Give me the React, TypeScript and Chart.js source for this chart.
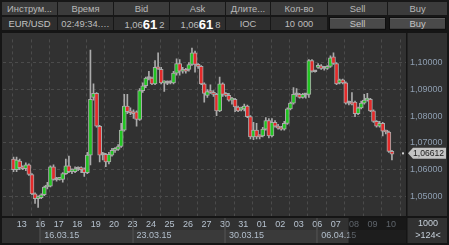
import React, { useEffect, useRef } from 'react';
import { Chart, registerables } from 'chart.js';

Chart.register(...registerables);

const FONT = '"Liberation Sans", Arial, sans-serif';

// ---- 4h EUR/USD candles ----
const OPEN = [
  1.06398, 1.06001, 1.06326, 1.06073, 1.06037, 1.06182, 1.05820, 1.05098, 1.04917, 1.04954,
  1.05062, 1.05351, 1.05387, 1.06109, 1.05640, 1.05640, 1.05640, 1.05856, 1.06145, 1.05929,
  1.05929, 1.06037, 1.06037, 1.06037, 1.05893, 1.06543, 1.08710, 1.08855, 1.07627, 1.06579,
  1.06579, 1.06290, 1.06543, 1.06723, 1.06760, 1.06868, 1.07482, 1.08385, 1.08168, 1.08168,
  1.08168, 1.07879, 1.08963, 1.09144, 1.09433, 1.09433, 1.09216, 1.09830, 1.09758, 1.09252,
  1.09252, 1.09252, 1.09252, 1.09613, 1.09975, 1.09686, 1.09722, 1.09758, 1.09939, 1.10372,
  1.09939, 1.09866, 1.09216, 1.08783, 1.08927, 1.08891, 1.08819, 1.08205, 1.09216, 1.08819,
  1.08783, 1.08602, 1.08638, 1.08349, 1.08241, 1.08277, 1.08385, 1.07988, 1.07229, 1.07482,
  1.07265, 1.07265, 1.07518, 1.07843, 1.07265, 1.07771, 1.07627, 1.07554, 1.07518, 1.07735,
  1.08277, 1.08494, 1.08819, 1.08819, 1.08710, 1.08819, 1.08819, 1.10083, 1.09686, 1.09830,
  1.09884, 1.09794, 1.09794, 1.09866, 1.10228, 1.09975, 1.09252, 1.09361, 1.09252, 1.08494,
  1.08494, 1.08530, 1.08096, 1.08313, 1.08494, 1.08602, 1.08638, 1.08205, 1.07807, 1.07627,
  1.07735, 1.07446, 1.07410, 1.06687,
];
const HIGH = [
  1.06471, 1.06471, 1.06398, 1.06145, 1.06254, 1.06218, 1.05856, 1.05134, 1.05026, 1.05098,
  1.05387, 1.05531, 1.06145, 1.06182, 1.05712, 1.05712, 1.05893, 1.06398, 1.06507, 1.06037,
  1.06109, 1.06109, 1.06109, 1.06073, 1.06651, 1.10480, 1.09216, 1.08891, 1.07663, 1.06651,
  1.06615, 1.06651, 1.06796, 1.06832, 1.06940, 1.07735, 1.08819, 1.08819, 1.08313, 1.08241,
  1.08205, 1.09035, 1.09252, 1.09469, 1.09686, 1.09469, 1.10083, 1.10372, 1.09830, 1.09324,
  1.09324, 1.09324, 1.09686, 1.10155, 1.10119, 1.09830, 1.09794, 1.10011, 1.10553, 1.10444,
  1.09975, 1.09902, 1.09252, 1.08999, 1.09180, 1.08963, 1.08855, 1.09469, 1.09252, 1.08891,
  1.08855, 1.08710, 1.08674, 1.08385, 1.08349, 1.08457, 1.08421, 1.08024, 1.07771, 1.07735,
  1.07301, 1.07590, 1.07952, 1.07916, 1.07916, 1.07843, 1.07699, 1.07627, 1.07807, 1.08313,
  1.08530, 1.09072, 1.09035, 1.08855, 1.08855, 1.08855, 1.10119, 1.10119, 1.09722, 1.09975,
  1.09939, 1.09866, 1.09902, 1.10264, 1.10372, 1.10011, 1.09397, 1.09397, 1.09288, 1.08566,
  1.08891, 1.08566, 1.08349, 1.08566, 1.08819, 1.08855, 1.08674, 1.08241, 1.07843, 1.07807,
  1.07771, 1.07482, 1.07446, 1.06723,
];
const LOW = [
  1.05929, 1.05929, 1.06001, 1.06001, 1.05965, 1.05784, 1.05062, 1.04737, 1.04592, 1.04917,
  1.05026, 1.05278, 1.05351, 1.05604, 1.05567, 1.05604, 1.05531, 1.05820, 1.05893, 1.05856,
  1.05893, 1.05965, 1.05893, 1.05748, 1.05856, 1.06182, 1.08602, 1.07590, 1.06290, 1.06362,
  1.06109, 1.06218, 1.06507, 1.06651, 1.06723, 1.06832, 1.07446, 1.08096, 1.08060, 1.07916,
  1.07627, 1.07843, 1.08891, 1.09072, 1.09361, 1.09180, 1.09180, 1.09758, 1.09216, 1.08927,
  1.09180, 1.09216, 1.09216, 1.09541, 1.09541, 1.09613, 1.09613, 1.09686, 1.09902, 1.09650,
  1.09794, 1.09180, 1.08530, 1.08710, 1.08855, 1.08746, 1.08024, 1.08168, 1.08746, 1.08746,
  1.08566, 1.08457, 1.08168, 1.08168, 1.08205, 1.08205, 1.07952, 1.07157, 1.07121, 1.07157,
  1.07157, 1.07229, 1.07482, 1.07193, 1.07229, 1.07590, 1.07518, 1.07482, 1.07482, 1.07699,
  1.08241, 1.08457, 1.08746, 1.08674, 1.08674, 1.08674, 1.08710, 1.09650, 1.09650, 1.09794,
  1.09758, 1.09722, 1.09758, 1.09830, 1.09939, 1.09180, 1.09216, 1.09216, 1.08457, 1.08421,
  1.08421, 1.07988, 1.08060, 1.08277, 1.08457, 1.08566, 1.08168, 1.07771, 1.07590, 1.07590,
  1.07265, 1.07338, 1.06651, 1.06362,
];
const CLOSE = [
  1.06001, 1.06362, 1.06073, 1.06037, 1.06182, 1.05820, 1.05098, 1.04917, 1.04954, 1.05062,
  1.05351, 1.05387, 1.06109, 1.05640, 1.05622, 1.05676, 1.05856, 1.06145, 1.05929, 1.05965,
  1.06037, 1.06019, 1.06001, 1.05893, 1.06543, 1.08638, 1.08855, 1.07627, 1.06543, 1.06561,
  1.06290, 1.06579, 1.06723, 1.06796, 1.06868, 1.07482, 1.08385, 1.08168, 1.08132, 1.08096,
  1.07879, 1.08963, 1.09144, 1.09433, 1.09415, 1.09216, 1.09830, 1.09776, 1.09252, 1.09288,
  1.09234, 1.09270, 1.09613, 1.09975, 1.09686, 1.09722, 1.09686, 1.09939, 1.10372, 1.09939,
  1.09866, 1.09216, 1.08855, 1.08927, 1.08891, 1.08819, 1.08205, 1.09216, 1.08819, 1.08783,
  1.08602, 1.08638, 1.08349, 1.08205, 1.08277, 1.08385, 1.07988, 1.07229, 1.07482, 1.07229,
  1.07229, 1.07518, 1.07843, 1.07265, 1.07771, 1.07627, 1.07554, 1.07518, 1.07735, 1.08277,
  1.08494, 1.08819, 1.08801, 1.08710, 1.08819, 1.08801, 1.10083, 1.09686, 1.09668, 1.09902,
  1.09794, 1.09812, 1.09866, 1.10191, 1.09975, 1.09216, 1.09361, 1.09252, 1.08494, 1.08512,
  1.08457, 1.08096, 1.08313, 1.08494, 1.08602, 1.08638, 1.08205, 1.07807, 1.07627, 1.07735,
  1.07446, 1.07410, 1.06687, 1.06579,
];

const DAY_LABELS = ['13', '16', '17', '18', '19', '20', '23', '24', '25', '26', '27', '30', '31', '01', '02', '03', '06', '07', '08', '09', '10'];
const WEEK_LABELS = ['16.03.15', '23.03.15', '30.03.15', '06.04.15'];
const WEEK_START_DAY = [1, 6, 11, 16];
const Y_TICKS = [1.05, 1.06, 1.07, 1.08, 1.09, 1.10];
const LAST_PRICE = 1.06612;
const CORNER_TEXT = ['1000', '>124<'];

const HEADERS = ['Инструм...', 'Время', 'Bid', 'Ask', 'Длите...', 'Кол-во', 'Sell', 'Buy'];
const ROW = { symbol: 'EUR/USD', time: '02:49:34.…', bid: ['1,06', '61', '2'], ask: ['1,06', '61', '8'], tif: 'IOC', qty: '10 000' };

// layout constants (style)
const CANDLES_PER_DAY = 6;
const FIRST_DAY_OFFSET = 2.7;
const X_MIN = -0.3;
const X_MAX = 124.45;
const Y_MIN = 1.04267;
const Y_MAX = 1.10878;
const SHADE_FROM = 108.9;

const GREEN = '#22c422';
const RED = '#e42a2a';
const GRAYB = '#ababab';
const GRID = '#4b4b4b';

const DAY_TICKS = DAY_LABELS.map((_, k) => FIRST_DAY_OFFSET + CANDLES_PER_DAY * k);

const COLS: [number, number][] = [
  [2, 57], [58, 113], [114, 169], [170, 225], [226, 270], [271, 327], [328, 387], [388, 447],
];

const fmt = (v: number) => v.toFixed(5).replace('.', ',');

const decorPlugin = {
  id: 'decor',
  beforeDraw(chart: any) {
    const { ctx, width, height } = chart;
    ctx.save();
    ctx.fillStyle = '#313131';
    ctx.fillRect(0, 0, width, height);
    ctx.restore();
  },
  afterDraw(chart: any) {
    const { ctx, chartArea: a, scales } = chart;
    const x = scales.x;
    const y = scales.y;
    const W = chart.width;
    const H = chart.height;
    ctx.save();
    // week boxes
    const rowTop = a.bottom + 14;
    const rowBot = H - 2;
    ctx.font = `9px ${FONT}`;
    ctx.textBaseline = 'middle';
    ctx.textAlign = 'left';
    WEEK_LABELS.forEach((lab, k) => {
      const x0 = x.getPixelForValue(DAY_TICKS[WEEK_START_DAY[k]]);
      const x1 = k < WEEK_LABELS.length - 1 ? x.getPixelForValue(DAY_TICKS[WEEK_START_DAY[k + 1]]) : a.right;
      ctx.fillStyle = '#3a3a3a';
      ctx.fillRect(x0, rowTop, x1 - x0, rowBot - rowTop);
      ctx.fillStyle = '#575757';
      ctx.fillRect(Math.round(x0) - 0.5, a.bottom, 1, rowBot - a.bottom);
      ctx.fillStyle = '#b3bfcc';
      ctx.fillText(lab, x0 + 4, rowTop + 5.5);
    });
    // dimmed future zone
    const xs = x.getPixelForValue(SHADE_FROM);
    ctx.fillStyle = 'rgba(0,0,0,0.5)';
    ctx.fillRect(xs, a.bottom, a.right - xs, rowBot - a.bottom);
    // frame lines
    ctx.fillStyle = '#151515';
    ctx.fillRect(0, 0, W, 3);
    ctx.fillRect(0, 0, 2, H);
    ctx.fillRect(W - 2, 0, 2, H);
    ctx.fillRect(0, H - 2, W, 2);
    ctx.fillRect(0, a.bottom, W, 2);
    ctx.fillRect(a.right, 0, 1.5, H);
    // corner text
    ctx.fillStyle = '#c6d0da';
    ctx.textAlign = 'center';
    const cx = (a.right + W) / 2 + 0.5;
    ctx.fillText(CORNER_TEXT[0], cx, a.bottom + 8);
    ctx.fillText(CORNER_TEXT[1], cx, a.bottom + 20);
    // last price marker
    const py = y.getPixelForValue(LAST_PRICE);
    ctx.fillStyle = '#d0d0d0';
    ctx.fillRect(a.right - 4, py - 1, 2, 2);
    ctx.fillStyle = '#c4c4c4';
    ctx.beginPath();
    ctx.moveTo(a.right + 2, py);
    ctx.lineTo(a.right + 7, py - 5.5);
    ctx.lineTo(W - 3, py - 5.5);
    ctx.lineTo(W - 3, py + 5.5);
    ctx.lineTo(a.right + 7, py + 5.5);
    ctx.closePath();
    ctx.fill();
    ctx.fillStyle = '#1b1b1b';
    ctx.textAlign = 'left';
    ctx.font = `8.6px ${FONT}`;
    ctx.fillText(fmt(LAST_PRICE), a.right + 7, py + 0.5);
    ctx.restore();
  },
};

function Cell(props: { c: [number, number]; top: number; h: number; bg: string; children?: any; color?: string }) {
  const { c, top, h, bg, children, color } = props;
  return (
    <div
      style={{
        position: 'absolute', left: c[0], top, width: c[1] - c[0], height: h, background: bg,
        color: color || '#b8b8b8', fontSize: 9.4, lineHeight: `${h}px`, textAlign: 'center',
        whiteSpace: 'nowrap', overflow: 'hidden',
      }}
    >
      {children}
    </div>
  );
}

function Button(props: { c: [number, number]; label: string }) {
  const { c, label } = props;
  return (
    <div
      style={{
        position: 'absolute', left: c[0] + 1, top: 17, width: c[1] - c[0] - 4, height: 11,
        background: '#4a4a4a', border: '1px solid #0f0f0f', boxShadow: 'inset 0 1px 0 #616161, inset 0 -1px 0 #3c3c3c',
        color: '#c4c4c4', fontSize: 9.4, lineHeight: '11px', textAlign: 'center',
      }}
    >
      {label}
    </div>
  );
}

function Price(props: { p: string[] }) {
  const [a, b, c] = props.p;
  return (
    <span style={{ position: 'relative', left: 3 }}>
      <span style={{ color: '#bdbdbd' }}>{a}</span>
      <span style={{ color: '#ffffff', fontSize: 13, fontWeight: 'bold', position: 'relative', top: 1 }}>{b}</span>
      <span style={{ color: '#bdbdbd', marginLeft: 2 }}>{c}</span>
    </span>
  );
}

export default function App() {
  const ref = useRef<HTMLCanvasElement>(null);
  useEffect(() => {
    if (!ref.current) return;
    Chart.defaults.font.family = FONT;
    const idx = OPEN.map((_, i) => i);
    const wicks = idx.map((i) => ({ x: i, y: [LOW[i], HIGH[i]] }));
    const bodies = idx.map((i) => ({ x: i, y: [Math.min(OPEN[i], CLOSE[i]), Math.max(OPEN[i], CLOSE[i])] }));
    const colors = idx.map((i) => {
      const d = CLOSE[i] - OPEN[i];
      if (Math.abs(d) < 0.0002) return GRAYB;
      return d > 0 ? GREEN : RED;
    });
    const chart = new Chart(ref.current, {
      type: 'bar',
      data: {
        datasets: [
          {
            data: wicks as any,
            barThickness: 1,
            backgroundColor: GRAYB,
            borderWidth: 0,
            grouped: false,
            order: 2,
          } as any,
          {
            data: bodies as any,
            barThickness: 4,
            backgroundColor: colors,
            borderColor: GRAYB,
            borderWidth: 1,
            borderSkipped: false,
            minBarLength: 2,
            grouped: false,
            order: 1,
          } as any,
        ],
      },
      options: {
        responsive: false,
        animation: false,
        events: [],
        layout: { padding: { left: 3, right: 2, top: 3, bottom: 0 } },
        plugins: { legend: { display: false }, tooltip: { enabled: false } },
        scales: {
          x: {
            type: 'linear',
            min: X_MIN,
            max: X_MAX,
            position: 'bottom',
            afterBuildTicks: (s: any) => {
              s.ticks = DAY_TICKS.map((v) => ({ value: v }));
            },
            afterFit: (s: any) => {
              s.height = 29;
            },
            grid: { color: GRID, lineWidth: 1, drawTicks: false },
            border: { display: false, dash: [3, 3] },
            ticks: {
              autoSkip: false,
              maxRotation: 0,
              padding: 3,
              color: '#b7c3d0',
              font: { family: FONT, size: 9 },
              callback: (_v: any, i: number) => DAY_LABELS[i],
            },
          },
          y: {
            type: 'linear',
            position: 'right',
            min: Y_MIN,
            max: Y_MAX,
            afterBuildTicks: (s: any) => {
              s.ticks = Y_TICKS.map((v) => ({ value: v }));
            },
            afterFit: (s: any) => {
              s.width = 41;
            },
            grid: { color: GRID, lineWidth: 1, drawTicks: false },
            border: { display: false, dash: [3, 3] },
            ticks: {
              padding: 4,
              color: '#8e9eb1',
              font: { family: FONT, size: 9 },
              callback: (v: any) => fmt(Number(v)),
            },
          },
        },
      } as any,
      plugins: [decorPlugin],
    });
    return () => chart.destroy();
  }, []);

  return (
    <div
      style={{
        position: 'fixed', left: 0, top: 0, width: 449, height: 245, background: '#171717',
        overflow: 'hidden', fontFamily: FONT,
      }}
    >
      {HEADERS.map((h, i) => (
        <Cell key={h} c={COLS[i]} top={2} h={13} bg="#3b3b3b">{h}</Cell>
      ))}
      <Cell c={COLS[0]} top={17} h={13} bg="#2e2e2e" color="#c4c4c4">{ROW.symbol}</Cell>
      <Cell c={COLS[1]} top={17} h={13} bg="#2e2e2e" color="#bdbdbd">{ROW.time}</Cell>
      <Cell c={COLS[2]} top={17} h={13} bg="#2e2e2e"><Price p={ROW.bid} /></Cell>
      <Cell c={COLS[3]} top={17} h={13} bg="#2e2e2e"><Price p={ROW.ask} /></Cell>
      <Cell c={COLS[4]} top={17} h={13} bg="#2e2e2e" color="#bdbdbd">{ROW.tif}</Cell>
      <Cell c={COLS[5]} top={17} h={13} bg="#2e2e2e" color="#bdbdbd">{ROW.qty}</Cell>
      <Button c={COLS[6]} label={HEADERS[6]} />
      <Button c={COLS[7]} label={HEADERS[7]} />
      <div style={{ position: 'absolute', left: 0, top: 30, width: 449, height: 215 }}>
        <canvas ref={ref} width={449} height={215} style={{ display: 'block', width: 449, height: 215 }} />
      </div>
    </div>
  );
}
